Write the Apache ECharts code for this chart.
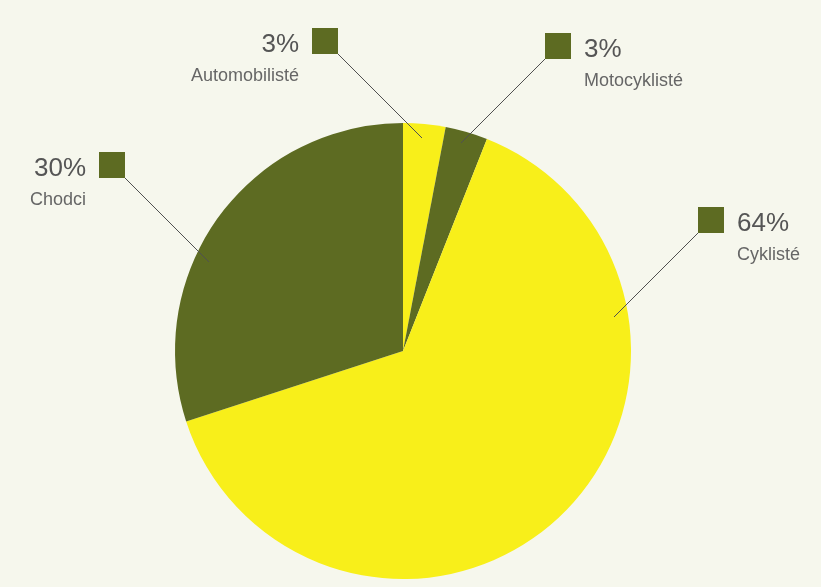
<!DOCTYPE html>
<html>
<head>
<meta charset="utf-8">
<script src="https://cdn.jsdelivr.net/npm/echarts@6/dist/echarts.min.js"></script>
<style>
  html, body { margin: 0; padding: 0; background: #f6f7ed; }
  #chart { width: 821px; height: 587px; }
</style>
</head>
<body>
<div id="chart"></div>
<script>
// Data
const categories = ['Automobilisté', 'Motocyklisté', 'Cyklisté', 'Chodci'];
const shares = [3, 3, 64, 30];
const sliceColors = ['#f8ef1a', '#5d6b22', '#f8ef1a', '#5d6b22'];

// Label layout (square callout top-left corner and which side the text goes)
const callouts = [
  { x: 312, y: 28, side: 'left',  dx: 1,  dy: 1 },
  { x: 545, y: 33, side: 'right', dx: -1, dy: 1 },
  { x: 698, y: 207, side: 'right', dx: -1, dy: 1 },
  { x: 99,  y: 152, side: 'left',  dx: 1,  dy: 1 }
];
const SQ = 26, GAP = 13, LEAD = 84;

const chart = echarts.init(document.getElementById('chart'), null, { renderer: 'canvas' });

const pieData = categories.map((name, i) => ({
  name, value: shares[i], itemStyle: { color: sliceColors[i] }
}));
const ghostData = categories.map((name, i) => ({ name, value: shares[i] }));

const base = {
  type: 'pie',
  center: [403, 351],
  radius: 228,
  startAngle: 90,
  clockwise: true,
  avoidLabelOverlap: false,
  silent: true
};

const option = {
  backgroundColor: '#f6f7ed',
  animation: false,
  series: [
    Object.assign({}, base, {
      z: 1,
      data: pieData,
      itemStyle: { borderWidth: 0 },
      label: { show: false },
      labelLine: { show: false }
    }),
    Object.assign({}, base, {
      z: 5,
      data: ghostData,
      itemStyle: { color: 'rgba(0,0,0,0)' },
      label: {
        show: true,
        position: 'outside',
        formatter: ' ',
        width: SQ,
        height: SQ,
        lineHeight: SQ,
        padding: 0,
        fontSize: 2,
        backgroundColor: '#5d6b22'
      },
      labelLine: {
        show: true,
        smooth: false,
        lineStyle: { color: '#505050', width: 1 }
      },
      labelLayout: function (params) {
        const c = callouts[params.dataIndex];
        const cx = c.dx > 0 ? c.x + SQ : c.x;
        const cy = c.y + SQ;
        const ex = cx + c.dx * LEAD;
        const ey = cy + c.dy * LEAD;
        return {
          x: c.x, y: c.y, align: 'left', verticalAlign: 'top',
          labelLinePoints: [[ex, ey], [cx, cy], [cx, cy]]
        };
      }
    }),
    Object.assign({}, base, {
      z: 6,
      data: ghostData,
      itemStyle: { color: 'rgba(0,0,0,0)' },
      label: {
        show: true,
        position: 'outside',
        formatter: function (p) { return '{p|' + p.value + '%}\n{n|' + p.name + '}'; },
        rich: {
          p: { fontFamily: 'Liberation Sans', fontSize: 26, lineHeight: 30, color: '#555555' },
          n: { fontFamily: 'Liberation Sans', fontSize: 18, lineHeight: 32, color: '#666666' }
        }
      },
      labelLine: { show: false },
      labelLayout: function (params) {
        const c = callouts[params.dataIndex];
        const top = c.y + SQ - 24;
        if (c.side === 'left') {
          return { x: c.x - GAP, y: top, align: 'right', verticalAlign: 'top' };
        }
        return { x: c.x + SQ + GAP, y: top, align: 'left', verticalAlign: 'top' };
      }
    })
  ]
};
chart.setOption(option);
</script>
</body>
</html>
